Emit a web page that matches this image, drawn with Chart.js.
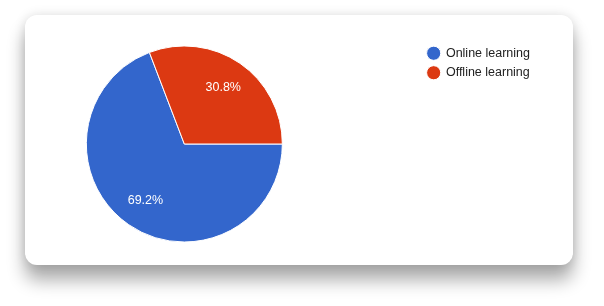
<!DOCTYPE html>
<html>
<head>
<meta charset="utf-8">
<script src="https://cdn.jsdelivr.net/npm/chart.js@4.4.1/dist/chart.umd.min.js"></script>
<style>
    html, body { margin: 0; padding: 0; background: #fff; overflow: hidden; }
    body { width: 604px; height: 306px; position: relative; }
    .card {
        position: absolute;
        left: 25px; top: 15px;
        width: 548px; height: 250px;
        background: #fff;
        border-radius: 12px;
        box-shadow: 0 15px 18px rgba(0, 0, 0, 0.33), 0 0 12px rgba(0, 0, 0, 0.12);
    }
    .chart-box {
        position: absolute;
        left: -52px; top: 0;
        width: 592px; height: 306px;
    }
</style>
</head>
<body>
<div class="card"></div>
<div class="chart-box"><canvas id="learningChart"></canvas></div>
<script>
// Datos del gráfico
const categories = ['Online learning', 'Offline learning'];
const shares = [69.2, 30.8];
const sliceColors = ['#3366cc', '#dc3912'];

/**
 * Escribe el porcentaje dentro de cada porción
 */
const sliceLabels = {
    id: 'sliceLabels',
    afterDatasetsDraw(chart) {
        const ctx = chart.ctx;
        const meta = chart.getDatasetMeta(0);
        const values = chart.data.datasets[0].data;
        const total = values.reduce((a, b) => a + b, 0);

        ctx.save();
        ctx.font = '12.5px "Liberation Sans", Arial, sans-serif';
        ctx.fillStyle = '#ffffff';
        ctx.textAlign = 'center';
        ctx.textBaseline = 'middle';
        meta.data.forEach((arc, i) => {
            const mid = (arc.startAngle + arc.endAngle) / 2;
            const r = arc.outerRadius * 0.7;
            const x = arc.x + Math.cos(mid) * r;
            const y = arc.y + Math.sin(mid) * r;
            const pct = (values[i] / total * 100).toFixed(1) + '%';
            ctx.fillText(pct, x, y);
        });
        ctx.restore();
    },
};

const ctx = document.getElementById('learningChart');
new Chart(ctx, {
    type: 'pie',
    data: {
        labels: categories,
        datasets: [{
            data: shares,
            backgroundColor: sliceColors,
            borderColor: '#ffffff',
            borderWidth: 1,
            hoverOffset: 0,
        }],
    },
    options: {
        responsive: true,
        maintainAspectRatio: false,
        animation: false,
        rotation: 90,
        radius: 98,
        layout: {
            padding: { top: 40, bottom: 58, left: 0, right: 0 },
        },
        plugins: {
            tooltip: { enabled: false },
            legend: {
                position: 'right',
                align: 'start',
                labels: {
                    usePointStyle: true,
                    pointStyle: 'circle',
                    boxWidth: 12,
                    boxHeight: 10,
                    padding: 7,
                    color: '#222222',
                    font: { family: '"Liberation Sans", Arial, sans-serif', size: 12.5, lineHeight: 1.2 },
                },
            },
        },
    },
    plugins: [sliceLabels],
});
</script>
</body>
</html>
